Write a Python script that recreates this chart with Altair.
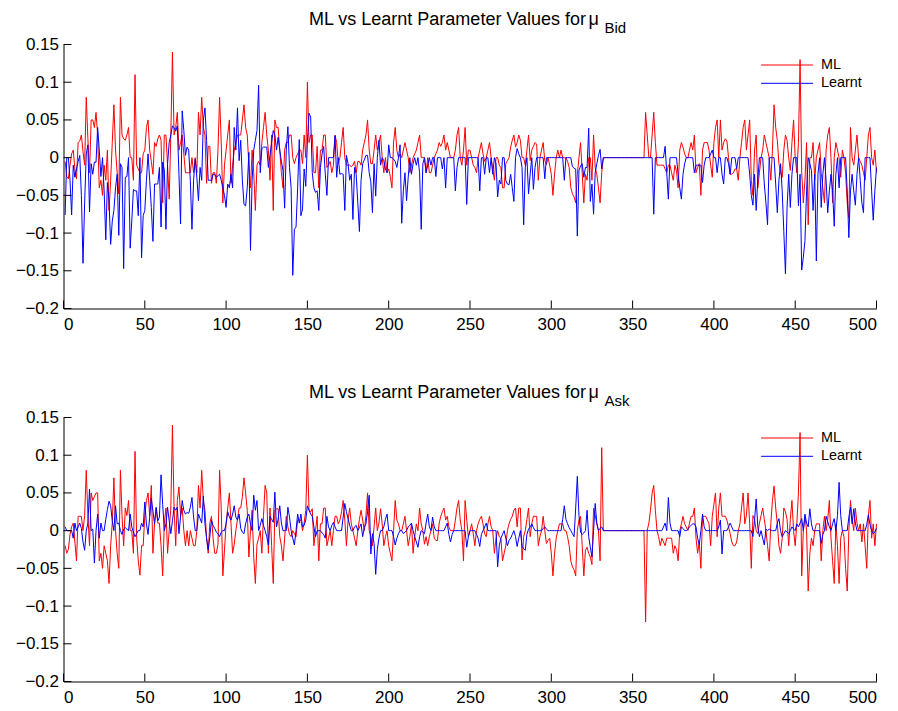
import altair as alt
import pandas as pd

FONT = "Liberation Sans"

# x positions (sample index)
x_index = list(range(1, 501))

# Series values, in units of 0.001
ml_bid = [
    -5, -25, -28, -10, 5, 10, -15, -28, 20, 22,
    30, 8, -10, 80, 25, -20, 50, 50, 40, 60,
    30, -40, -30, -50, -10, -30, 10, -70, -30, 20,
    70, 10, -20, -48, 80, 30, 25, 23, 30, 40,
    0, 0, -30, 110, -10, -15, -20, -20, 5, 10,
    40, 50, 10, -5, -22, 20, 15, 25, 30, 23,
    -60, 30, 30, -10, -55, 30, 140, 30, 40, 60,
    10, 20, 30, 5, -20, -20, -20, -20, 0, -20,
    0, -20, 60, 30, 80, 40, 30, -34, 15, 15,
    -34, -20, -20, -34, 10, 80, 20, -60, -10, 10,
    30, 50, -34, -10, 10, 20, 30, 30, 30, 50,
    70, 40, 30, -10, -40, 10, -20, -70, -10, -5,
    -10, 20, 40, 60, 30, 10, -30, 30, -70, 50,
    40, 40, 10, -20, -40, 10, 20, 20, 30, 30,
    0, -8, 0, 5, 10, 10, -8, 30, 0, 100,
    20, 30, 30, -20, -20, 15, -40, 10, 10, 30,
    30, -13, -10, -5, -20, -10, 30, 20, -8, 0,
    20, 40, 0, -10, -10, -10, -12, -10, -5, -20,
    -5, -5, -10, 10, 20, 30, 50, 10, -8, -8,
    10, 30, 10, 20, 30, 0, -20, 0, -20, -15,
    -25, -40, 20, 40, 10, 0, 5, 0, 10, 20,
    10, 0, -20, -10, 0, 5, 10, 20, 30, 0,
    0, 0, -20, 0, -20, -20, -10, 0, 5, 10,
    20, 15, 20, 30, 10, 20, 10, 0, 0, 0,
    10, 30, 40, 0, -10, 10, 40, -10, 10, 10,
    0, -10, -13, -20, 0, 10, 20, 5, -5, 0,
    10, 20, 0, -15, -30, 0, 0, -10, -13, -40,
    -40, -8, -4, 0, 14, 23, 30, 14, 20, 30,
    23, 0, 0, -10, 10, 30, -4, 10, 15, 20,
    18, -30, 0, 10, 20, -4, -9, 0, -10, -22,
    -50, -22, 0, 10, 0, 10, 0, 0, 0, -5,
    -13, -40, -48, -52, -60, -22, 0, 20, -20, -60,
    -22, -30, 0, 0, -30, 30, -13, -22, -40, -60,
    -20, 0, 0, 0, 0, 0, 0, 0, 0, 0,
    0, 0, 0, 0, 0, 0, 0, 0, 0, 0,
    0, 0, 0, 0, 0, 0, 0, 60, 30, 0,
    0, 30, 60, 20, -10, -10, -10, -10, -10, -15,
    -20, -10, -10, -20, -30, -10, -18, -40, 10, 20,
    14, 5, 0, 0, 10, 20, 10, 30, -20, -13,
    -8, -50, 10, 20, 20, 20, 10, -10, -26, 20,
    40, 50, 0, 50, 10, 20, 25, 22, 0, -22,
    -22, -20, -15, -15, -30, 0, 20, 40, 50, 10,
    30, 50, -30, -50, 10, 30, -40, -20, 0, 10,
    30, 20, 10, 0, -30, 10, 70, 40, 23, -8,
    -20, -26, 10, 30, 23, 0, -17, 20, 50, 0,
    -20, 20, 130, -20, -60, -30, 20, -89, 0, 0,
    20, -30, 0, 10, 20, -20, -40, -60, 10, 30,
    40, 0, -60, 0, 20, 10, 0, -26, 10, 0,
    -20, -60, -80, 40, 0, -10, 10, 30, 0, -5,
    -10, -20, -30, 0, 30, 40, 0, -10, 10, -20,
]

learnt_bid = [
    -76, 0, 0, -30, -76, -10, -26, -15, -5, 3,
    -50, -140, -60, 5, 17, -72, -8, -22, -6, -6,
    40, 10, -25, 0, -44, -109, -33, -57, -115, -84,
    -70, -40, -22, -103, -8, -13, -147, -26, -25, 0,
    -120, -84, -42, -44, -44, -77, 0, -133, -77, -70,
    -30, 5, -30, -66, -111, -35, -35, -35, -13, -92,
    -6, -16, -95, -8, 20, 30, 42, 40, 35, 42,
    -22, -88, 62, 36, 3, 14, 10, -30, -95, -30,
    -2, -26, -57, -13, -30, 49, 66, 23, -30, -30,
    -30, -22, -22, -26, -24, -22, -30, -40, -50, -66,
    -35, -40, -22, -40, 40, 10, 66, -4, 23, -30,
    -62, -64, -40, 7, -123, -30, 10, 23, 36, 96,
    -20, 12, 14, 14, 14, -13, 3, 20, 36, 30,
    10, 27, 10, -5, -17, -67, 10, 41, -13, -40,
    -156, -95, -92, -40, 24, -77, -68, -15, -38, 22,
    59, 54, -20, -40, -46, -44, -70, -13, 5, 15,
    -22, -50, 0, 0, 0, 0, 29, -26, 0, -22,
    -21, -22, -70, 3, -8, -30, -22, -82, -13, -22,
    -60, -98, -30, -8, -3, 3, 3, -20, -32, -73,
    -8, -51, 0, 23, -10, 0, -4, -15, -20, 17,
    0, 0, -2, -5, -13, 0, 17, -87, -44, -20,
    -57, -26, 0, -22, -8, 0, -10, 0, -20, -95,
    -8, 0, -20, -10, 0, -10, 0, 0, -25, 0,
    0, 0, -15, 0, -40, 0, 0, 0, 0, 0,
    -44, -13, 0, 0, 0, 0, 0, -62, 0, 0,
    0, 0, 0, 0, 0, -44, 0, 0, -22, 0,
    0, -20, 0, -22, 0, -8, -52, -30, -35, 0,
    0, -30, -35, -36, -22, -40, -58, 0, 12, 5,
    0, -13, -89, -13, 0, -48, -22, 0, -42, -13,
    0, 0, 0, 0, 0, -28, 0, 0, 0, 0,
    0, 0, 0, 0, 0, 0, 0, -30, 0, 0,
    0, 0, -12, -14, -15, -104, -17, -11, -8, -26,
    -13, -13, 39, -58, -35, -75, -20, -8, 3, 11,
    -15, 0, 0, 0, 0, 0, 0, 0, 0, 0,
    0, 0, 0, 0, 0, 0, 0, 0, 0, 0,
    0, 0, 0, 0, 0, 0, 0, 0, 0, 0,
    0, 0, -75, 0, 0, 0, 0, 0, 0, 15,
    -20, -55, 0, 0, 0, 0, 0, -22, -40, -55,
    -22, -8, 0, 0, 0, 0, 0, -20, -10, -10,
    -10, -10, -33, -10, 0, 0, 0, 5, 10, 0,
    0, -20, 0, 0, -22, -35, 0, 0, -8, -22,
    0, 0, 0, -15, 0, 0, 0, 0, 0, 0,
    0, -22, -50, -63, -22, -70, -30, 0, 0, 0,
    -35, -60, -89, 0, 0, 0, 0, -35, -73, -30,
    -8, -44, -98, -154, -66, -22, -66, -22, 0, 0,
    0, -64, -22, -149, -132, -110, -44, 0, -8, -17,
    -70, -22, -137, -22, 0, -66, -22, 0, -30, -73,
    -44, -22, -44, -91, -22, 0, -40, 0, 0, 0,
    0, -44, -106, -44, -22, -44, -63, -22, 0, -30,
    -60, -73, 0, 0, 0, 0, -44, -83, -44, -13,
]

ml_ask = [
    -20, -30, -25, -5, 5, 10, -15, -40, 19, 19,
    19, 0, 20, 80, 20, -20, 50, 40, 45, 50,
    50, -40, -30, -50, -20, -30, -40, -70, -20, 10,
    70, 0, -30, -50, 80, 20, -20, 30, 20, 40,
    0, 0, -30, 105, -10, -40, -59, -20, -20, 20,
    40, 50, 20, 60, -30, 10, 30, 10, 10, -20,
    -60, 10, 30, -30, 0, 30, 140, 30, -20, 40,
    58, 20, 30, 0, -20, 0, -20, 0, -10, -20,
    -20, 0, 60, 30, 80, 40, 27, -10, -30, 10,
    19, -10, -30, -30, -18, 80, 30, -60, -26, 10,
    30, 50, 10, -30, -18, 0, 15, 30, 30, 45,
    70, 50, 27, -35, 0, 27, -35, -70, -18, -10,
    0, -30, 20, 60, 50, -30, 30, -20, -70, 27,
    29, 29, -8, -20, -40, -10, 19, 5, -5, -8,
    0, -4, -8, 14, 14, 14, 0, 10, 27, 100,
    27, 25, 29, -20, 0, 19, -40, 9, 9, 30,
    30, -20, -10, 0, -20, 0, 19, 19, 9, 14,
    25, 40, 14, -20, 14, 30, 9, 0, -10, -20,
    0, 15, 27, 14, 0, 20, 50, 0, -8, -20,
    5, 30, 0, 10, 29, 9, -20, -8, 0, -20,
    -30, -40, 0, 40, 14, 9, 0, 0, 9, 19,
    0, -20, -8, 9, -30, -8, 9, 0, 30, 9,
    0, -18, -8, -20, -8, 0, 9, -10, -13, -13,
    9, 19, 25, 30, 14, 19, 5, 0, 0, 0,
    14, 30, 40, 14, 0, -40, 40, 14, -8, 0,
    9, -4, -20, 0, 9, 15, 19, 9, -4, -8,
    9, 19, 5, 0, -30, -10, 0, -8, -10, -40,
    -30, -20, 0, 9, 15, 19, 27, 30, 5, 30,
    30, -39, -8, 0, 15, 30, -8, 9, 19, 19,
    19, -20, -8, 0, 19, 0, -17, -13, -10, -30,
    -60, -30, -10, 0, 9, 9, 9, 0, 0, -8,
    -20, -40, -48, -52, -60, 0, 14, 19, -20, -60,
    -26, -22, -30, -35, -45, 30, 20, 9, 0, -40,
    110, 0, 0, 0, 0, 0, 0, 0, 0, 0,
    0, 0, 0, 0, 0, 0, 0, 0, 0, 0,
    0, 0, 0, 0, 0, 0, 0, -121, 0, 10,
    27, 50, 60, 27, 0, -8, -20, -10, -15, -20,
    -10, -10, -10, -10, -30, -20, -25, -40, 0, 9,
    19, 9, 5, 0, 10, 19, 19, 30, -10, -30,
    -15, -50, 19, 19, 19, 14, 9, -20, 19, 35,
    50, -8, 30, 50, 19, 19, 19, 14, 5, -4,
    -15, -20, -20, -15, 0, 9, 30, 50, 9, 20,
    50, 9, -50, 20, 15, 0, -4, 10, 20, 30,
    15, 0, -20, -40, 9, 40, 59, 30, 9, -20,
    -30, -10, 30, 25, 15, -20, 15, 40, 0, -20,
    9, 50, 130, -60, 0, 19, 0, -80, -30, -10,
    -20, 0, 9, 9, 9, -40, 0, 19, 0, 15,
    40, -10, -40, -70, 9, -20, -70, -10, 0, -8,
    -50, -80, 0, 40, 15, 0, 30, 10, 0, 9,
    -15, 9, -20, -50, 20, 40, -10, 9, -20, 9,
]

learnt_ask = [
    5, 0, 0, 0, 0, -10, 10, 0, 5, 10,
    3, -15, -26, 0, 10, 55, 0, 2, -43, 0,
    22, -10, 10, 0, 0, 15, 28, 39, 33, 13,
    0, 33, 9, 10, 0, -5, 2, 4, 2, 0,
    22, 5, -2, -8, -4, 0, 0, 10, 5, 38,
    9, -5, 18, 43, 26, 9, 31, 13, 18, 74,
    35, 0, 9, 31, 13, -4, 13, 31, 27, 31,
    -4, 18, 40, 27, 22, 24, 23, 31, 44, 18,
    0, 0, 22, 16, 10, 46, 9, -10, -25, -8,
    14, 7, 3, -2, -4, -8, -2, 0, 0, 9,
    25, 18, 14, 22, 33, 18, 14, 22, 3, -2,
    -4, 9, 18, 22, 9, 0, 47, 27, 40, 0,
    7, 16, 7, 0, -8, -19, 19, 15, 11, 51,
    5, 15, 33, 10, 0, 0, 0, 31, 18, 0,
    -10, -19, 0, 22, 10, 22, 5, 7, 14, 33,
    27, 22, 19, 5, -8, 0, 0, 0, -3, -5,
    -10, 19, 5, 0, 7, 11, 5, 0, 0, 0,
    0, 18, 36, 25, 16, 7, 0, 0, 5, 7,
    0, 4, 9, -8, 4, 9, 25, 47, -31, -4,
    -17, -58, -25, -10, 0, 0, 5, 15, 22, 0,
    0, 0, -8, -19, -10, -4, 0, 0, -4, -2,
    0, 5, 7, 10, 0, -8, -15, -22, -8, 0,
    -2, -4, 10, 22, 5, 0, 18, 5, 0, 0,
    0, 0, 0, 0, 5, 10, -5, -15, -5, 0,
    0, 0, 0, 0, 0, 0, 0, -22, -8, 0,
    0, 0, 0, -5, -10, -21, -5, 0, 5, 10,
    0, 0, 0, 0, 0, 0, -48, -20, -10, -5,
    0, -10, -20, -13, -10, -5, 0, -8, -21, -10,
    0, -20, -24, -26, -5, 2, 5, 9, 4, 0,
    0, 0, 0, 0, 3, 5, 2, 0, 0, 0,
    0, 0, 0, 0, 0, 0, 15, 33, 15, 9,
    4, 0, -4, -8, 30, 72, 20, -2, -5, -3,
    0, 27, -8, -22, -35, 0, 36, 10, 0, 3,
    5, 0, 0, 0, 0, 0, 0, 0, 0, 0,
    0, 0, 0, 0, 0, 0, 0, 0, 0, 0,
    0, 0, 0, 0, 0, 0, 0, 0, 0, 0,
    0, 0, 0, 0, 0, 0, 0, 0, 5, 10,
    0, 44, 10, 0, 0, 0, 0, 0, -8, 5,
    3, 0, 0, 2, 5, 7, 9, 9, 5, -10,
    -19, 0, 22, 5, 0, 0, 0, 0, 0, 0,
    0, 0, 5, 14, -31, 0, 0, 0, 5, 10,
    5, 0, 0, 0, 0, 0, 0, 0, 0, 0,
    0, 0, 0, -8, 14, 42, 5, -8, 0, -10,
    -19, 2, 0, 2, 1, 0, 0, 0, 10, 16,
    0, -8, -4, 0, -2, -4, 0, 5, 2, 0,
    9, 5, 10, 16, 0, 22, 10, 5, 29, 9,
    0, 0, 0, 0, 0, -17, -5, 0, 19, 12,
    5, 0, 9, 16, 0, 20, 64, 20, 0, 0,
    0, 0, 18, 31, 9, 29, 10, 0, 0, 0,
    0, 0, 0, 8, 21, 8, 0, -4, -2, 3,
]

series_names = ["ML", "Learnt"]
series_colors = ["#ff0000", "#0000ff"]
y_ticks = [-0.2, -0.15, -0.1, -0.05, 0, 0.05, 0.1, 0.15]
x_ticks = [0, 50, 100, 150, 200, 250, 300, 350, 400, 450, 500]
title_text = "ML vs Learnt Parameter Values for"
mu_text = "\u03bc"
subscripts = ["Bid", "Ask"]

for s in (ml_bid, learnt_bid, ml_ask, learnt_ask):
    assert len(s) == len(x_index), len(s)

W, H = 813, 264
x_scale = alt.Scale(domain=[0, 500], nice=False, zero=False)
y_scale = alt.Scale(domain=[-0.2, 0.15], nice=False, zero=False)
color_scale = alt.Scale(domain=series_names, range=series_colors)
x_axis = alt.Axis(values=x_ticks, format="d", labelPadding=8, title=None)
y_axis = alt.Axis(values=y_ticks, format="~g", labelPadding=5, title=None)

TITLE_Y = -19.5


def panel(ml, learnt, sub):
    df = pd.DataFrame({
        "x": x_index + x_index,
        "value": [v / 1000 for v in ml] + [v / 1000 for v in learnt],
        "series": ["ML"] * len(ml) + ["Learnt"] * len(learnt),
    })
    x_enc = alt.X("x:Q", scale=x_scale, axis=x_axis, title=None)
    y_enc = alt.Y("value:Q", scale=y_scale, axis=y_axis, title=None)
    col = alt.Color("series:N", scale=color_scale, legend=None)

    layers = []
    for name in series_names:
        layers.append(
            alt.Chart(df).transform_filter(alt.datum.series == name)
            .mark_line(strokeWidth=1, interpolate="linear")
            .encode(x=x_enc, y=y_enc, color=col, order="x:Q")
        )

    # inward tick marks (MATLAB style)
    ytk = alt.Chart(pd.DataFrame({"t": y_ticks})).mark_rule(color="black", strokeWidth=1).encode(
        y=alt.Y("t:Q", scale=y_scale, axis=y_axis, title=None), x=alt.value(0), x2=alt.value(8))
    xtk = alt.Chart(pd.DataFrame({"t": x_ticks})).mark_rule(color="black", strokeWidth=1).encode(
        x=alt.X("t:Q", scale=x_scale, axis=x_axis, title=None), y=alt.value(H), y2=alt.value(H - 8))
    layers += [ytk, xtk]

    # legend
    leg_y = [20.5, 38.8]
    for name, c, yy in zip(series_names, series_colors, leg_y):
        d = pd.DataFrame({"label": [name]})
        layers.append(alt.Chart(d).mark_rule(color=c, strokeWidth=1).encode(
            x=alt.value(697.6), x2=alt.value(749.6), y=alt.value(yy)))
        layers.append(alt.Chart(d).mark_text(align="left", baseline="middle", font=FONT,
                                             fontSize=14.4, color="black").encode(
            x=alt.value(757.5), y=alt.value(yy), text="label:N"))

    # title with subscript
    layers.append(alt.Chart(pd.DataFrame({"t": [title_text]})).mark_text(
        align="right", baseline="alphabetic", font=FONT, fontSize=18, color="black").encode(
        x=alt.value(522.6), y=alt.value(TITLE_Y), text="t:N"))
    layers.append(alt.Chart(pd.DataFrame({"t": [mu_text]})).mark_text(
        align="left", baseline="alphabetic", font=FONT, fontSize=18, color="black").encode(
        x=alt.value(525.0), y=alt.value(TITLE_Y), text="t:N"))
    layers.append(alt.Chart(pd.DataFrame({"t": [sub]})).mark_text(
        align="left", baseline="alphabetic", font=FONT, fontSize=15, color="black").encode(
        x=alt.value(541.0), y=alt.value(TITLE_Y + 7.5), text="t:N"))

    return alt.layer(*layers).properties(width=W, height=H)


top = panel(ml_bid, learnt_bid, subscripts[0])
bottom = panel(ml_ask, learnt_ask, subscripts[1])

chart = alt.vconcat(top, bottom, spacing=109, bounds="flush").properties(
    padding={"left": 6.5, "top": 2.5, "right": 0, "bottom": 0},
    background="white",
).configure_view(stroke=None).configure_axis(
    grid=False, ticks=False, tickSize=0, domainColor="black", domainWidth=1,
    labelFont=FONT, labelFontSize=17, labelColor="black",
).configure_axisY(labelAlign="right")

chart.save("out.html", embed_options={"renderer": "svg", "actions": False})
